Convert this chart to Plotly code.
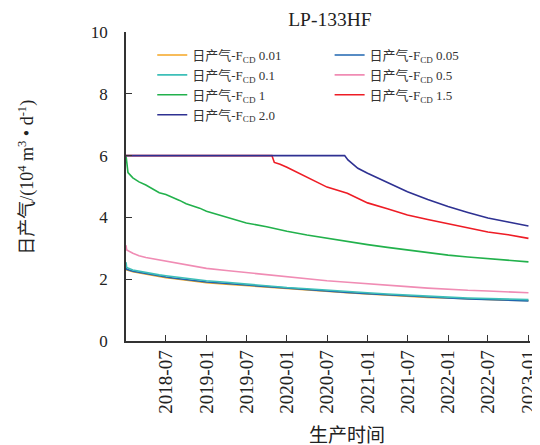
import plotly.graph_objects as go

# ---- data ----
dates_common = ["2018-01-01", "2018-01-04", "2018-02-01", "2018-03-01", "2018-04-01",
                "2018-05-01", "2018-06-01", "2018-07-01", "2018-08-01", "2018-09-01",
                "2018-10-01", "2018-11-01", "2018-12-01", "2019-01-01", "2019-04-01",
                "2019-07-01", "2019-10-01", "2020-01-01", "2020-04-01", "2020-07-01",
                "2020-10-01", "2021-01-01", "2021-04-01", "2021-07-01", "2021-10-01",
                "2022-01-01", "2022-04-01", "2022-07-01", "2022-10-01", "2023-01-01"]

gas_f001 = [2.42, 2.30, 2.24, 2.20, 2.16, 2.12, 2.08, 2.05, 2.02, 1.99,
            1.96, 1.93, 1.91, 1.89, 1.84, 1.79, 1.74, 1.69, 1.65, 1.60,
            1.56, 1.52, 1.48, 1.44, 1.41, 1.39, 1.36, 1.34, 1.32, 1.31]
gas_f005 = [2.45, 2.32, 2.26, 2.22, 2.18, 2.14, 2.10, 2.07, 2.04, 2.01,
            1.98, 1.95, 1.93, 1.91, 1.86, 1.81, 1.76, 1.70, 1.66, 1.61,
            1.57, 1.53, 1.49, 1.45, 1.42, 1.39, 1.36, 1.34, 1.32, 1.30]
gas_f01 = [2.55, 2.38, 2.30, 2.26, 2.22, 2.18, 2.14, 2.11, 2.08, 2.05,
           2.02, 1.99, 1.97, 1.95, 1.90, 1.84, 1.79, 1.73, 1.69, 1.64,
           1.60, 1.56, 1.52, 1.48, 1.45, 1.42, 1.39, 1.37, 1.35, 1.34]
gas_f05 = [3.10, 2.95, 2.84, 2.76, 2.70, 2.66, 2.62, 2.59, 2.55, 2.50,
           2.46, 2.42, 2.38, 2.35, 2.28, 2.21, 2.15, 2.08, 2.01, 1.95,
           1.90, 1.86, 1.81, 1.76, 1.71, 1.67, 1.64, 1.62, 1.60, 1.56]

dates_f1 = ["2018-01-01", "2018-01-04", "2018-01-10", "2018-02-01", "2018-03-01",
            "2018-04-01", "2018-05-01", "2018-06-01", "2018-07-01", "2018-08-01",
            "2018-09-01", "2018-10-01", "2018-11-01", "2018-12-01", "2019-01-01",
            "2019-04-01", "2019-07-01", "2019-10-01", "2020-01-01", "2020-04-01",
            "2020-07-01", "2020-10-01", "2021-01-01", "2021-04-01", "2021-07-01",
            "2021-10-01", "2022-01-01", "2022-04-01", "2022-07-01", "2022-10-01",
            "2023-01-01"]
gas_f1 = [6.00, 5.85, 5.45, 5.28, 5.15, 5.05, 4.92, 4.80, 4.74, 4.65,
          4.55, 4.44, 4.38, 4.30, 4.20, 4.00, 3.82, 3.70, 3.55, 3.43,
          3.32, 3.22, 3.12, 3.03, 2.94, 2.85, 2.78, 2.72, 2.66, 2.60, 2.56]

dates_f15 = ["2018-01-01", "2019-10-25", "2019-11-05", "2019-12-01", "2020-01-01",
             "2020-04-01", "2020-07-01", "2020-10-01", "2021-01-01", "2021-04-01",
             "2021-07-01", "2021-10-01", "2022-01-01", "2022-04-01", "2022-07-01",
             "2022-10-01", "2023-01-01"]
gas_f15 = [6.00, 6.00, 5.78, 5.72, 5.62, 5.30, 4.98, 4.78, 4.47, 4.28,
           4.08, 3.93, 3.80, 3.65, 3.53, 3.44, 3.32]

dates_f20 = ["2018-01-01", "2020-09-19", "2020-10-04", "2020-11-18", "2021-01-01",
             "2021-04-01", "2021-07-01", "2021-10-01", "2022-01-01", "2022-04-01",
             "2022-07-01", "2022-10-01", "2023-01-01"]
gas_f20 = [6.00, 6.00, 5.86, 5.59, 5.43, 5.12, 4.83, 4.58, 4.35, 4.16,
           3.98, 3.85, 3.72]

x_tickvals = ["2018-07-01", "2019-01-01", "2019-07-01", "2020-01-01", "2020-07-01",
              "2021-01-01", "2021-07-01", "2022-01-01", "2022-07-01", "2023-01-01"]
x_ticktext = ["2018-07", "2019-01", "2019-07", "2020-01", "2020-07",
              "2021-01", "2021-07", "2022-01", "2022-07", "2023-01"]
y_tickvals = [0, 2, 4, 6, 8, 10]

PREFIX = "日产气-F<sub>CD</sub> "
series = [
    ("0.01", dates_common, gas_f001, "#f5a623", "legend"),
    ("0.05", dates_common, gas_f005, "#1f66b0", "legend2"),
    ("0.1", dates_common, gas_f01, "#3dbfb8", "legend"),
    ("0.5", dates_common, gas_f05, "#f08cb4", "legend2"),
    ("1", dates_f1, gas_f1, "#22b14c", "legend"),
    ("1.5", dates_f15, gas_f15, "#ee1c25", "legend2"),
    ("2.0", dates_f20, gas_f20, "#2e3192", "legend"),
]

SERIF = "Liberation Serif, Times New Roman, Noto Sans CJK SC, serif"

fig = go.Figure()
for label, xs, ys, color, leg in series:
    fig.add_trace(go.Scatter(
        x=xs, y=ys, mode="lines", name=PREFIX + label,
        line=dict(color=color, width=1.6), legend=leg,
    ))

# the page body adds an 8px offset, so the figure is 8px smaller on each axis
fig.update_layout(
    width=532, height=437,
    margin=dict(l=118, r=10, t=24, b=104),
    paper_bgcolor="white", plot_bgcolor="white",
    font=dict(family=SERIF, size=14, color="#222"),
    title=dict(text="LP-133HF", x=0.605, xanchor="center", y=0.975, yanchor="middle",
               font=dict(family=SERIF, size=19.5, color="#222")),
    showlegend=True,
    legend=dict(x=0.065, y=0.974, xanchor="left", yanchor="top",
                bgcolor="rgba(0,0,0,0)", tracegroupgap=0,
                font=dict(family=SERIF, size=13, color="#333")),
    legend2=dict(x=0.504, y=0.974, xanchor="left", yanchor="top",
                 bgcolor="rgba(0,0,0,0)", tracegroupgap=0,
                 font=dict(family=SERIF, size=13, color="#333")),
    annotations=[
        dict(text="日产气/(10<sup>4</sup> m<sup>3</sup> • d<sup>-1</sup>)",
             xref="paper", yref="paper", x=-0.247, y=0.529, textangle=-90,
             xanchor="center", yanchor="middle", showarrow=False,
             font=dict(family=SERIF, size=18, color="#222")),
        dict(text="生产时间", xref="paper", yref="paper", x=0.548, y=-0.307,
             xanchor="center", yanchor="middle", showarrow=False,
             font=dict(family=SERIF, size=19, color="#222")),
    ],
)

fig.update_xaxes(
    type="date", range=["2018-01-01", "2023-01-08"], automargin=False,
    tickvals=x_tickvals, ticktext=x_ticktext, tickangle=-90,
    ticks="inside", ticklen=6, tickwidth=1.2, tickcolor="#333",
    ticklabelstandoff=0, ticklabeloverflow="allow",
    showline=True, linecolor="#333", linewidth=1.5, mirror=False,
    showgrid=False, zeroline=False,
    tickfont=dict(family=SERIF, size=19, color="#222"),
)
fig.update_yaxes(
    range=[0, 10], tickvals=y_tickvals, automargin=False,
    ticks="inside", ticklen=6, tickwidth=1.2, tickcolor="#333",
    ticklabelstandoff=13,
    showline=True, linecolor="#333", linewidth=1.5, mirror=False,
    showgrid=False, zeroline=False,
    tickfont=dict(family=SERIF, size=17, color="#222"),
)

fig.write_html("out.html")
